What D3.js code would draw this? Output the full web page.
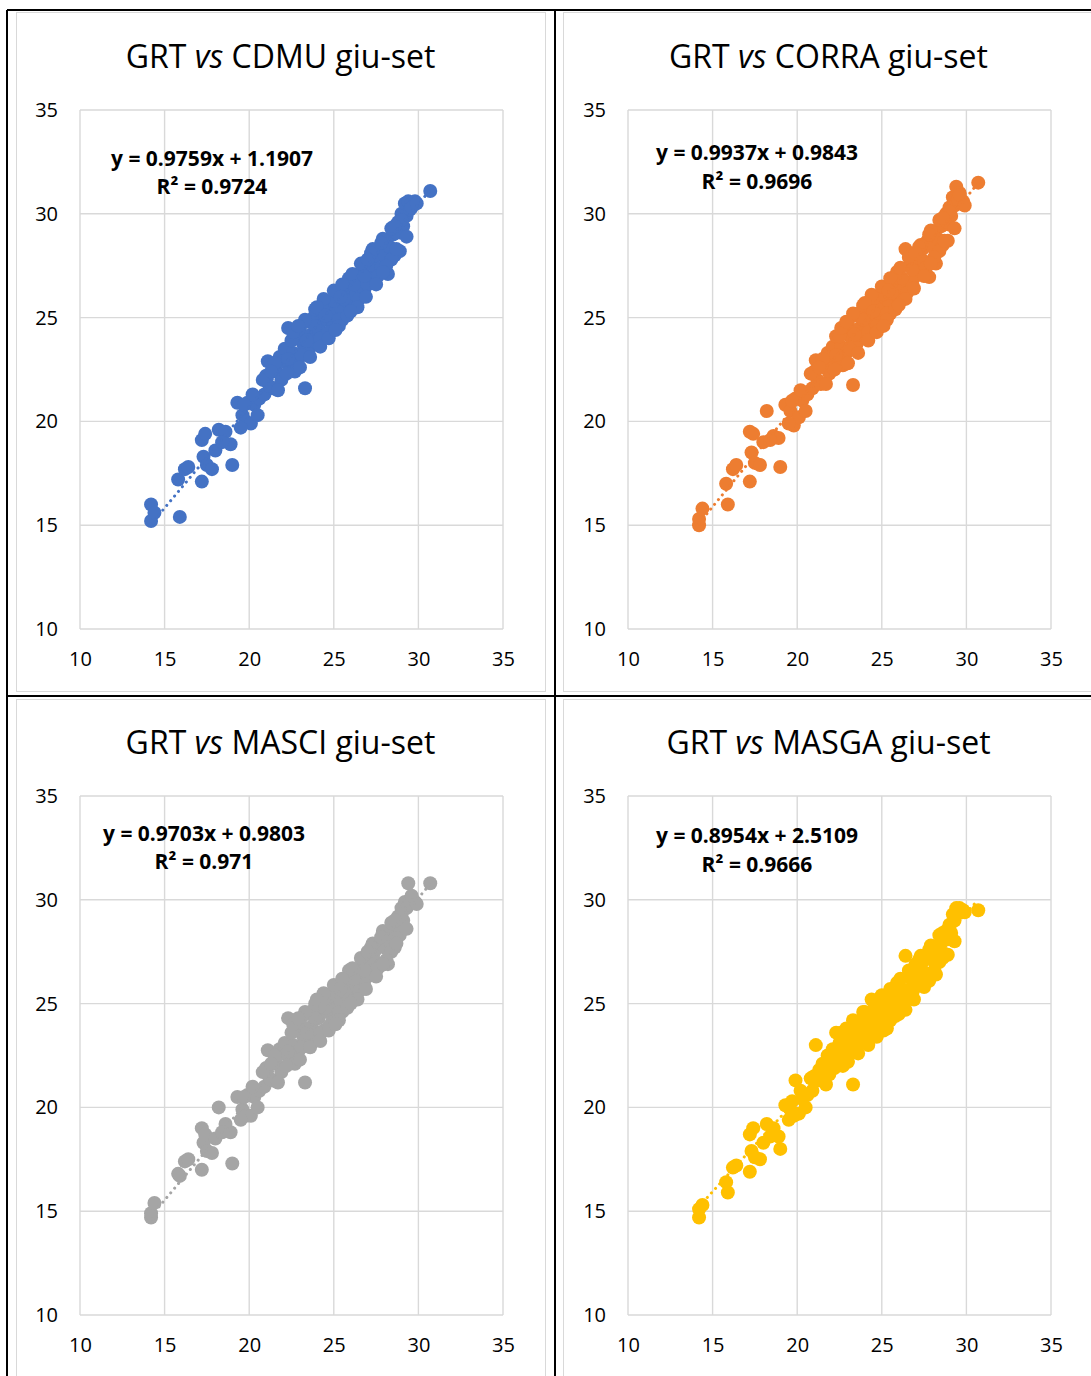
<!DOCTYPE html>
<html>
<head>
<meta charset="utf-8">
<title>GRT vs giu-set</title>
<script src="https://d3js.org/d3.v7.min.js"></script>
<style>
body { margin: 0; background: #fff; }
svg text { font-family: "Open Sans", sans-serif; fill: #000; }
</style>
</head>
<body>
<svg id="chart" width="1091" height="1376"></svg>
<script>
// GRT values (x, shared by all four panels)
var grt = [14.2,14.2,14.4,15.9,15.8,16.2,16.4,17.2,17.3,17.5,
  17.8,17.2,17.4,18.0,18.2,18.6,18.9,19.0,19.3,19.6,
  19.8,20.1,19.9,20.3,20.6,20.9,21.1,21.0,21.4,21.6,
  21.9,21.8,22.1,22.3,22.4,22.6,22.8,22.9,23.0,23.2,
  23.3,23.4,23.5,23.7,23.8,24.0,24.1,24.3,24.4,24.6,
  24.8,24.9,25.1,25.2,25.4,25.5,25.7,25.8,26.0,26.1,
  26.3,26.4,26.6,26.7,26.8,26.9,27.1,27.2,27.4,27.5,
  27.7,27.8,28.0,28.1,28.2,28.3,28.5,28.6,28.8,28.9,
  28.9,29.0,29.1,29.2,29.4,29.6,29.8,30.7,22.0,22.7,
  23.1,23.6,23.9,24.2,24.5,24.7,25.0,25.3,25.6,25.9,
  26.2,26.5,27.0,27.3,27.6,27.9,28.4,28.7,29.3,29.5,
  20.5,21.2,21.7,22.5,18.4,19.5,21.5,22.2,22.6,23.0,
  23.3,23.6,23.9,24.2,24.4,24.7,25.0,25.3,25.5,25.8,
  26.1,26.4,26.6,26.9,27.2,27.5,27.8,28.1,28.4,28.7,
  29.0,29.3,29.6,29.9,20.8,20.2,19.7,21.3,22.9,24.0,
  25.1,26.0,27.0,27.9,28.6,24.5,23.4,22.3,26.8,25.4];

var cdmu = [15.2,16.0,15.6,15.4,17.2,17.7,17.8,17.1,18.3,17.9,
  17.7,19.1,19.4,18.6,19.6,19.5,18.9,17.9,20.9,20.3,
  20.0,19.9,20.9,20.8,21.1,21.3,22.9,22.2,21.6,22.4,
  22.0,23.1,23.5,24.5,22.7,23.3,24.0,23.0,24.4,23.7,
  21.6,24.8,23.4,24.2,25.0,23.8,24.6,25.3,24.1,24.9,
  25.6,24.5,25.2,26.0,25.5,24.9,26.3,25.8,26.6,25.6,
  26.1,26.9,26.4,27.3,26.3,27.0,27.6,26.8,27.9,27.3,
  28.3,27.4,28.0,28.7,27.1,28.4,29.0,28.0,29.6,28.2,
  29.1,30.0,29.4,30.5,30.6,30.5,30.6,31.1,22.9,22.4,
  23.2,23.9,24.6,24.0,25.6,24.3,25.8,24.9,25.9,26.9,
  26.6,25.9,26.6,28.3,27.0,28.8,27.8,29.1,29.9,30.2,
  20.3,21.7,21.5,23.9,19.0,19.7,22.8,22.3,24.3,22.6,
  24.9,23.1,25.4,23.6,25.9,24.0,26.3,24.6,26.6,25.1,
  27.1,25.5,27.6,26.0,28.1,26.6,28.6,27.5,29.3,28.3,
  29.7,28.9,30.3,30.5,22.0,21.3,20.8,22.4,24.6,25.5,
  24.4,25.3,27.8,27.2,29.4,25.1,23.9,23.0,27.0,26.0];

var corra = [15.0,15.3,15.8,16.0,17.0,17.7,17.9,17.1,18.5,18.0,
  17.9,19.5,19.4,19.0,20.5,19.3,19.2,17.8,20.8,20.5,
  19.8,20.2,21.1,21.0,21.3,21.6,22.95,22.4,21.8,22.6,
  22.3,23.3,23.6,24.1,22.9,23.6,24.3,23.3,24.7,24.0,
  21.75,25.1,23.7,24.5,25.3,24.1,24.9,25.6,24.4,25.2,
  25.9,24.8,25.5,26.3,25.8,25.2,26.6,26.1,26.9,25.9,
  26.4,28.3,26.7,27.6,26.6,27.4,27.9,27.2,28.3,27.7,
  28.7,26.95,28.4,29.1,27.6,28.8,29.4,28.5,30.0,28.7,
  29.5,30.3,29.9,30.8,31.3,31.0,30.6,31.5,23.1,22.7,
  23.5,24.2,24.9,24.3,25.9,24.6,26.1,25.2,26.2,27.2,
  26.9,26.2,27.0,28.5,27.4,29.2,28.2,29.6,30.4,30.7,
  20.5,22.0,21.8,24.1,19.1,19.9,23.0,22.5,24.5,22.8,
  25.2,23.3,25.6,23.9,26.1,24.3,26.5,24.9,26.9,25.4,
  27.4,25.9,27.9,26.4,28.4,27.0,29.0,27.9,29.7,28.7,
  30.1,29.3,30.9,30.4,22.3,21.5,21.0,22.6,24.8,25.7,
  24.6,25.6,28.1,27.6,29.8,25.3,24.2,23.2,27.3,26.3];

var masci = [14.7,14.9,15.4,16.7,16.8,17.4,17.5,17.0,18.3,17.9,
  17.8,19.0,18.7,18.5,20.0,19.2,18.8,17.3,20.5,19.9,
  19.6,19.6,20.6,20.5,20.8,21.0,22.75,21.9,21.3,22.1,
  21.7,22.8,23.1,24.3,22.4,23.0,23.7,22.7,24.1,23.4,
  21.2,24.5,23.1,23.9,24.7,23.4,24.3,25.0,23.7,24.6,
  25.2,24.1,24.9,25.6,25.1,24.6,26.0,25.4,26.3,25.3,
  25.8,26.6,26.0,26.9,25.9,26.7,27.2,26.5,27.5,27.0,
  27.9,26.85,27.7,28.3,26.9,28.0,28.6,27.7,29.2,28.3,
  28.8,29.6,29.0,29.9,30.8,30.1,29.9,30.8,22.6,22.1,
  22.9,23.6,24.3,23.6,25.3,23.9,25.5,24.6,25.6,26.6,
  26.2,25.6,26.3,27.9,26.7,28.5,27.5,28.8,29.6,29.9,
  20.0,21.4,21.2,23.6,18.8,19.4,22.5,22.0,24.0,22.3,
  24.6,22.9,25.0,23.2,25.5,23.7,25.9,24.2,26.2,24.8,
  26.7,25.2,27.2,25.7,27.7,26.3,28.2,27.1,28.9,27.9,
  29.3,28.6,30.2,29.8,21.7,21.0,20.5,22.1,24.3,25.2,
  24.0,25.0,27.5,26.9,29.0,24.8,23.6,22.7,26.6,25.7];

var masga = [14.7,15.1,15.3,15.9,16.4,17.1,17.2,16.9,17.9,17.6,
  17.5,18.7,19.0,18.3,19.2,19.0,18.6,18.0,20.1,19.9,
  19.6,19.7,21.3,20.4,20.6,20.8,23.0,21.5,21.3,21.9,
  21.6,22.5,22.8,23.6,22.3,22.8,23.3,22.6,23.6,23.1,
  21.1,24.0,22.9,23.5,24.2,23.2,23.9,24.5,23.5,24.1,
  24.8,23.8,24.5,25.2,24.8,24.2,25.5,25.0,25.8,24.8,
  25.3,27.3,25.6,26.4,25.5,26.2,26.7,26.0,27.0,26.5,
  27.3,26.1,27.1,27.6,26.4,27.4,27.9,27.2,28.5,27.35,
  28.1,28.8,28.4,29.3,29.6,29.5,29.5,29.5,22.3,22.0,
  22.7,23.3,23.9,23.4,24.7,23.7,25.0,24.3,25.1,26.0,
  25.7,25.2,25.8,27.3,26.3,27.8,27.0,28.2,29.0,29.4,
  20.0,21.3,21.1,23.1,18.6,19.4,22.1,21.9,23.6,22.2,
  24.2,22.6,24.6,23.0,25.2,23.4,25.4,23.8,25.7,24.4,
  26.2,24.7,26.6,25.2,27.1,25.8,27.6,26.6,28.3,27.4,
  28.7,28.0,29.6,29.4,21.4,20.8,20.3,21.8,23.8,24.6,
  23.7,24.5,26.9,26.3,28.4,24.3,23.3,22.4,26.1,25.2];

var names = ["CDMU", "CORRA", "MASCI", "MASGA"];
var series = [cdmu, corra, masci, masga];
var colors = ["#4472C4", "#ED7D31", "#A5A5A5", "#FFC000"];
var slopes = [0.9759, 0.9937, 0.9703, 0.8954];
var intercepts = [1.1907, 0.9843, 0.9803, 2.5109];
var eqLabels = ["y = 0.9759x + 1.1907", "y = 0.9937x + 0.9843", "y = 0.9703x + 0.9803", "y = 0.8954x + 2.5109"];
var r2Labels = ["R\u00B2 = 0.9724", "R\u00B2 = 0.9696", "R\u00B2 = 0.971", "R\u00B2 = 0.9666"];
var ticks = [10, 15, 20, 25, 30, 35];

var svg = d3.select("#chart");

// panel geometry
var plotW = 423, plotH = 519;
var origins = [[80, 110], [628, 110], [80, 796], [628, 796]];
var eqPos = [[132, 56, 84], [129, 50, 79], [124, 45, 73], [129, 47, 76]];

// chart area borders (light grey, like excel)
[[16, 12], [563, 12], [16, 699], [563, 699]].forEach(function(p) {
  svg.append("rect")
    .attr("x", p[0] + 0.5).attr("y", p[1] + 0.5)
    .attr("width", 529).attr("height", 679)
    .attr("fill", "none").attr("stroke", "#d9d9d9").attr("stroke-width", 1);
});

names.forEach(function(name, k) {
  var o = origins[k];
  var g = svg.append("g").attr("transform", "translate(" + o[0] + "," + o[1] + ")");

  var x = d3.scaleLinear().domain([10, 35]).range([0, plotW]);
  var y = d3.scaleLinear().domain([10, 35]).range([plotH, 0]);

  // grid
  g.selectAll(".hg").data(ticks).enter().append("line")
    .attr("x1", 0).attr("x2", plotW)
    .attr("y1", function(d) { return y(d); }).attr("y2", function(d) { return y(d); })
    .attr("stroke", "#d9d9d9").attr("stroke-width", 1.4);
  g.selectAll(".vg").data(ticks).enter().append("line")
    .attr("y1", 0).attr("y2", plotH)
    .attr("x1", function(d) { return x(d); }).attr("x2", function(d) { return x(d); })
    .attr("stroke", "#d9d9d9").attr("stroke-width", 1.4);

  // axes (labels only)
  var ya = g.append("g").call(d3.axisLeft(y).tickValues(ticks).tickSize(0).tickPadding(22));
  var xa = g.append("g").attr("transform", "translate(0," + plotH + ")")
    .call(d3.axisBottom(x).tickValues(ticks).tickSize(0).tickPadding(23));
  [ya, xa].forEach(function(a) {
    a.select(".domain").remove();
    a.selectAll("text").attr("font-size", 20).attr("font-family", "'Open Sans', sans-serif").attr("fill", "#000");
  });

  // title
  var t = svg.append("text")
    .attr("x", o[0] + plotW / 2 - 11).attr("y", o[1] - 42)
    .attr("text-anchor", "middle").attr("font-size", 32);
  t.append("tspan").text("GRT ");
  t.append("tspan").attr("font-style", "italic").text("vs");
  t.append("tspan").text(" " + name + " giu-set");

  var ys = series[k];
  var pts = grt.map(function(v, i) { return [v, ys[i]]; });

  // points
  g.selectAll("circle").data(pts).enter().append("circle")
    .attr("cx", function(d) { return x(d[0]); })
    .attr("cy", function(d) { return y(d[1]); })
    .attr("r", 7)
    .attr("fill", colors[k]);

  // dotted linear trendline over the GRT range
  var xr = d3.extent(grt);
  g.append("line")
    .attr("x1", x(xr[0])).attr("x2", x(xr[1]))
    .attr("y1", y(slopes[k] * xr[0] + intercepts[k]))
    .attr("y2", y(slopes[k] * xr[1] + intercepts[k]))
    .attr("stroke", colors[k]).attr("stroke-width", 3)
    .attr("stroke-linecap", "round").attr("stroke-dasharray", "0.1 6");

  // equation + r squared
  var e = eqPos[k];
  g.append("text").attr("x", e[0]).attr("y", e[1])
    .attr("text-anchor", "middle").attr("font-size", 21).attr("font-weight", "bold")
    .text(eqLabels[k]);
  g.append("text").attr("x", e[0]).attr("y", e[2])
    .attr("text-anchor", "middle").attr("font-size", 21).attr("font-weight", "bold")
    .text(r2Labels[k]);
});

// black table lines
var tl = [[7, 10, 1091, 10], [7, 10, 7, 1376], [555, 10, 555, 1376], [7, 696, 1091, 696]];
tl.forEach(function(l) {
  svg.append("line").attr("x1", l[0]).attr("y1", l[1]).attr("x2", l[2]).attr("y2", l[3])
    .attr("stroke", "#000").attr("stroke-width", 2);
});
</script>
</body>
</html>
